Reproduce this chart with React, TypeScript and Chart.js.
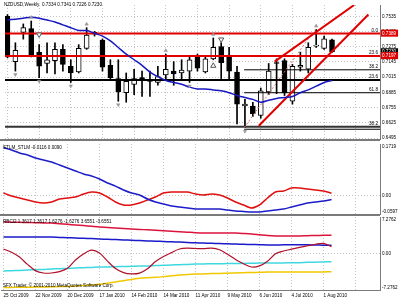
import React, { useEffect, useRef } from 'react';
import { Chart, registerables } from 'chart.js';

Chart.register(...registerables);

// ---------------- data ----------------
const DATE_LABELS = ['25 Oct 2009', '22 Nov 2009', '20 Dec 2009', '17 Jan 2010', '14 Feb 2010', '14 Mar 2010', '11 Apr 2010', '9 May 2010', '6 Jun 2010', '4 Jul 2010', '1 Aug 2010'];
const DATE_BARS = [0, 4, 8, 12, 16, 20, 24, 28, 32, 36, 40];
const GRID_BARS = [0, 4, 8, 12, 16, 20, 24, 28, 32, 36, 40, 44];

const OPEN = [0.7535, 0.7148, 0.7398, 0.7430, 0.7229, 0.7132, 0.7156, 0.7253, 0.7108, 0.7059, 0.7261, 0.7398, 0.7333, 0.7116, 0.7003, 0.6882, 0.6954, 0.7011, 0.6995, 0.6971, 0.7035, 0.7067, 0.7051, 0.7067, 0.7188, 0.7059, 0.7172, 0.7277, 0.7204, 0.7059, 0.6769, 0.6769, 0.6688, 0.6890, 0.7140, 0.7156, 0.6809, 0.7100, 0.7083, 0.7280, 0.7261, 0.7334];
const HIGH = [0.7550, 0.7309, 0.7470, 0.7495, 0.7293, 0.7309, 0.7309, 0.7293, 0.7164, 0.7293, 0.7438, 0.7406, 0.7341, 0.7164, 0.7164, 0.7051, 0.7083, 0.7067, 0.7067, 0.7108, 0.7212, 0.7148, 0.7164, 0.7188, 0.7212, 0.7188, 0.7350, 0.7309, 0.7269, 0.7108, 0.6825, 0.6801, 0.6922, 0.7132, 0.7172, 0.7172, 0.7124, 0.7229, 0.7309, 0.7422, 0.7366, 0.7341];
const LOW = [0.7180, 0.7067, 0.7340, 0.7188, 0.7011, 0.7051, 0.7043, 0.7067, 0.6970, 0.7051, 0.7253, 0.7366, 0.7067, 0.6987, 0.6809, 0.6801, 0.6866, 0.6850, 0.6850, 0.6946, 0.6995, 0.6946, 0.6987, 0.6970, 0.7067, 0.7051, 0.7164, 0.7003, 0.7003, 0.6616, 0.6583, 0.6680, 0.6664, 0.6866, 0.6874, 0.6858, 0.6785, 0.7067, 0.7051, 0.7269, 0.7253, 0.7226];
const CLOSE = [0.7188, 0.7245, 0.7438, 0.7204, 0.7108, 0.7164, 0.7253, 0.7124, 0.7051, 0.7261, 0.7374, 0.7382, 0.7100, 0.7011, 0.6890, 0.6979, 0.7003, 0.6987, 0.6979, 0.7019, 0.7083, 0.7043, 0.7075, 0.7164, 0.7091, 0.7172, 0.7269, 0.7140, 0.7067, 0.6785, 0.6785, 0.6704, 0.6898, 0.7067, 0.7132, 0.6882, 0.7108, 0.7116, 0.7269, 0.7290, 0.7342, 0.7230];
const MA = [0.7503, 0.7511, 0.7519, 0.7527, 0.7519, 0.7503, 0.7487, 0.7462, 0.7438, 0.7414, 0.7414, 0.7390, 0.7366, 0.7325, 0.7269, 0.7212, 0.7164, 0.7116, 0.7059, 0.7019, 0.6987, 0.6970, 0.6954, 0.6930, 0.6914, 0.6914, 0.6906, 0.6898, 0.6882, 0.6858, 0.6841, 0.6825, 0.6801, 0.6817, 0.6833, 0.6841, 0.6850, 0.6882, 0.6906, 0.6938, 0.6970, 0.6987];

const PRICE_MIN = 0.64866;
const PRICE_MAX = 0.76318;
const PRICE_TICKS = [0.6495, 0.6625, 0.6755, 0.6885, 0.7015, 0.7145, 0.7275, 0.7405, 0.7535];
const PRICE_MARKS = [0.7230, 0.7197, 0.7389];

const FIB_PRICES = [0.7389, 0.7197, 0.7078, 0.6990, 0.6882, 0.6591, 0.6570];
const FIB_LABELS = ['0.0', '23.6', '38.2', '23.6', '61.8', '38.2', ''];
const FIB_FROM_BAR = [null, null, 29.9, null, 29.9, null, 29.9];

const CHANNEL_LOWER_BARS = [31.75, 45.6];
const CHANNEL_LOWER_PRICES = [0.6600, 0.7551];
const CHANNEL_UPPER_BARS = [33.75, 43.8];
const CHANNEL_UPPER_PRICES = [0.7148, 0.7632];
const FIB_TREND_BARS = [29.9, 38.85];
const FIB_TREND_PRICES = [0.6583, 0.7422];

const UP_FRACTAL_BARS = [3, 10, 20, 26, 39];
const DOWN_FRACTAL_BARS = [1, 4, 8, 14, 23, 30];
const SIGNAL_DOWN_BARS = [4, 27];
const SIGNAL_DOWN_PRICES = [0.7380, 0.7337];
const SIGNAL_UP_BARS = [26];
const SIGNAL_UP_PRICES = [0.7112];

const STLM_MIN = -0.0597;
const STLM_MAX = 0.1719;
const STLM_SLOW = [0.1603, 0.1520, 0.1421, 0.1355, 0.1256, 0.1190, 0.1123, 0.1024, 0.0925, 0.0826, 0.0726, 0.0660, 0.0561, 0.0429, 0.0327, 0.0197, 0.0098, 0.0032, -0.0101, -0.0200, -0.0266, -0.0332, -0.0365, -0.0398, -0.0432, -0.0432, -0.0432, -0.0432, -0.0465, -0.0498, -0.0514, -0.0531, -0.0531, -0.0498, -0.0465, -0.0432, -0.0365, -0.0299, -0.0233, -0.0200, -0.0167, -0.0116];
const STLM_FAST = [0.0098, -0.0001, -0.0068, -0.0134, -0.0200, -0.0233, -0.0200, -0.0101, -0.0068, -0.0035, 0.0065, 0.0131, 0.0098, -0.0035, -0.0200, -0.0299, -0.0299, -0.0233, -0.0134, -0.0035, 0.0098, 0.0131, 0.0131, 0.0131, 0.0065, 0.0032, 0.0065, 0.0032, -0.0068, -0.0200, -0.0299, -0.0398, -0.0299, -0.0068, 0.0131, 0.0164, 0.0263, 0.0263, 0.0230, 0.0197, 0.0164, 0.0090];

const RBCI_MIN = -7.2762;
const RBCI_MAX = 7.2762;
const RBCI = [0.90, 0.26, -0.70, -2.17, -3.41, -3.89, -3.89, -3.61, -2.95, -1.30, -0.10, 0.66, 0.10, -1.52, -2.99, -3.81, -4.07, -3.91, -3.05, -1.61, -0.60, 0.18, 0.90, 1.06, 1.00, 0.96, 1.06, 0.74, -0.14, -1.18, -2.05, -2.69, -2.47, -1.54, -0.06, 0.50, 0.86, 1.22, 1.54, 1.85, 2.01, 1.3617];
const RBCI_UP2 = [6.28, 6.24, 6.22, 6.18, 6.14, 6.10, 6.06, 5.94, 5.82, 5.68, 5.56, 5.42, 5.28, 5.20, 5.10, 5.00, 4.90, 4.80, 4.72, 4.63, 4.53, 4.45, 4.35, 4.25, 4.15, 4.09, 4.09, 4.09, 4.09, 4.07, 3.99, 3.89, 3.73, 3.57, 3.49, 3.49, 3.49, 3.49, 3.55, 3.59, 3.62, 3.6551];
const RBCI_UP1 = [3.29, 3.29, 3.29, 3.29, 3.29, 3.29, 3.29, 3.21, 3.15, 3.09, 3.03, 2.97, 2.89, 2.83, 2.77, 2.71, 2.65, 2.57, 2.51, 2.45, 2.39, 2.33, 2.27, 2.19, 2.13, 2.07, 2.03, 1.97, 1.93, 1.89, 1.83, 1.79, 1.75, 1.69, 1.69, 1.72, 1.74, 1.74, 1.72, 1.69, 1.66, 1.6276];
const RBCI_DN1 = [-3.49, -3.43, -3.37, -3.29, -3.23, -3.17, -3.09, -3.03, -2.97, -2.89, -2.83, -2.77, -2.69, -2.67, -2.63, -2.59, -2.55, -2.51, -2.49, -2.41, -2.35, -2.29, -2.23, -2.17, -2.11, -2.07, -2.05, -2.03, -2.01, -1.99, -1.97, -1.93, -1.91, -1.89, -1.87, -1.87, -1.85, -1.83, -1.76, -1.72, -1.68, -1.6276];
const RBCI_DN2 = [-6.78, -6.76, -6.74, -6.72, -6.70, -6.68, -6.64, -6.60, -6.56, -6.50, -6.40, -6.28, -6.14, -5.92, -5.68, -5.42, -5.18, -4.94, -4.82, -4.74, -4.61, -4.45, -4.31, -4.19, -4.11, -4.07, -4.01, -3.97, -3.93, -3.89, -3.83, -3.79, -3.75, -3.69, -3.69, -3.69, -3.69, -3.69, -3.69, -3.68, -3.67, -3.6551];

const TITLE_MAIN = 'NZDUSD,Weekly  0.7334 0.7341 0.7226 0.7230';
const TITLE_STLM = 'STLM_STLM -0.0116 0.0090';
const TITLE_RBCI = 'RBCI2 1.3617 1.3617 1.6276 -1.6276 3.6551 -3.6551';
const COPYRIGHT = 'SFX Trader, © 2001-2010 MetaQuotes Software Corp.';

// ---------------- styling / layout ----------------
const FONT = '"Liberation Sans", Arial, sans-serif';
const FS = 4.6;
const GRID_COLOR = '#c4c4c4';
const AXIS_COLOR = '#7a7a7a';
const SEP_COLOR = '#7a7a7a';
const PX_PER_BAR = 8;
const X_MIN = -0.3125;
const X_MAX = X_MIN + 379 / PX_PER_BAR;
const BARS = OPEN.map((_, i) => i);
const NONE = 'rgba(0,0,0,0)';

function drawText(ctx: CanvasRenderingContext2D, s: string, x: number, y: number, color = '#000', align: CanvasTextAlign = 'left') {
  ctx.save();
  ctx.font = `${FS}px ${FONT}`;
  ctx.fillStyle = color;
  ctx.textAlign = align;
  ctx.textBaseline = 'middle';
  ctx.fillText(s, x, y);
  ctx.restore();
}

function baseOptions(padding: any) {
  return {
    responsive: false,
    maintainAspectRatio: false,
    animation: false,
    devicePixelRatio: 1,
    events: [],
    layout: { padding },
    plugins: { legend: { display: false }, tooltip: { enabled: false }, title: { display: false } },
  };
}

function xScale(showLabels: boolean) {
  return {
    type: 'linear',
    min: X_MIN,
    max: X_MAX,
    offset: false,
    afterBuildTicks: (s: any) => {
      s.ticks = GRID_BARS.map((v) => ({ value: v }));
    },
    afterFit: (s: any) => {
      s.height = showLabels ? 10 : 0;
      s.paddingLeft = 0;
      s.paddingRight = 0;
    },
    grid: { display: true, offset: false, color: GRID_COLOR, lineWidth: 1, drawTicks: false },
    border: { display: showLabels, color: AXIS_COLOR, width: 1, dash: [1, 2] },
    ticks: {
      display: showLabels,
      autoSkip: false,
      maxRotation: 0,
      minRotation: 0,
      align: 'start',
      padding: 3,
      color: '#000',
      font: { size: FS, family: FONT },
      callback: (v: number) => {
        const k = DATE_BARS.indexOf(v);
        return k >= 0 ? DATE_LABELS[k] : '';
      },
    },
  };
}

function rangeAxis(min: number, max: number, labelValues: number[], labels: string[], gridIndex: number) {
  return {
    type: 'linear',
    position: 'right',
    min,
    max,
    afterBuildTicks: (s: any) => {
      s.ticks = labelValues.map((v) => ({ value: v }));
    },
    afterFit: (s: any) => {
      s.width = 20;
      s.paddingTop = 0;
      s.paddingBottom = 0;
    },
    grid: { drawTicks: false, color: (c: any) => (c.index === gridIndex ? GRID_COLOR : NONE) },
    border: { display: true, color: AXIS_COLOR, width: 1, dash: [1, 2] },
    ticks: {
      autoSkip: false,
      padding: 2,
      color: '#000',
      font: { size: FS, family: FONT },
      callback: (_v: number, i: number) => labels[i],
    },
  };
}

function buildMain() {
  const markBg = ['#000000', '#e00000', '#e00000'];
  const fibColor = ['#e00000', '#e00000', '#000', '#000', '#000', '#333', '#000'];
  const fibWidth = [2, 2, 1, 2, 1, 2, 1];
  const gap = 0.0030;
  const datasets: any[] = [
    {
      type: 'bar',
      data: BARS.map((i) => ({ x: i, y: [LOW[i], HIGH[i]] })),
      backgroundColor: '#000',
      borderWidth: 0,
      barThickness: 1,
      grouped: false,
      order: 30,
    },
    {
      type: 'bar',
      data: BARS.map((i) => ({ x: i, y: [Math.min(OPEN[i], CLOSE[i]), Math.max(OPEN[i], CLOSE[i])] })),
      backgroundColor: BARS.map((i) => (CLOSE[i] >= OPEN[i] ? '#ffffff' : '#000000')),
      borderColor: '#000',
      borderWidth: 1,
      borderSkipped: false,
      barThickness: 5,
      grouped: false,
      order: 29,
    },
  ];
  FIB_PRICES.forEach((p, k) => {
    datasets.push({
      type: 'line',
      data: [
        { x: FIB_FROM_BAR[k] ?? X_MIN, y: p },
        { x: X_MAX, y: p },
      ],
      borderColor: fibColor[k],
      borderWidth: fibWidth[k],
      pointRadius: 0,
      order: 20,
    });
  });
  datasets.push({
    type: 'line',
    data: FIB_TREND_BARS.map((b, k) => ({ x: b, y: FIB_TREND_PRICES[k] })),
    borderColor: '#e07070',
    borderWidth: 1,
    borderDash: [2, 2],
    pointRadius: 0,
    order: 15,
  });
  datasets.push({
    type: 'line',
    data: CHANNEL_LOWER_BARS.map((b, k) => ({ x: b, y: CHANNEL_LOWER_PRICES[k] })),
    borderColor: '#e00000',
    borderWidth: 2,
    pointRadius: 0,
    order: 14,
  });
  datasets.push({
    type: 'line',
    data: CHANNEL_UPPER_BARS.map((b, k) => ({ x: b, y: CHANNEL_UPPER_PRICES[k] })),
    borderColor: '#e00000',
    borderWidth: 2,
    pointRadius: 0,
    order: 14,
  });
  datasets.push({
    type: 'line',
    data: BARS.map((i) => ({ x: i, y: MA[i] })),
    borderColor: '#1818c0',
    borderWidth: 1.5,
    pointRadius: 0,
    tension: 0.3,
    order: 10,
  });
  datasets.push({
    type: 'line',
    showLine: false,
    data: UP_FRACTAL_BARS.map((i) => ({ x: i, y: HIGH[i] + gap })),
    pointStyle: 'triangle',
    pointRadius: 2,
    pointBackgroundColor: '#999',
    pointBorderColor: '#999',
    pointBorderWidth: 0.5,
    order: 5,
  });
  datasets.push({
    type: 'line',
    showLine: false,
    data: DOWN_FRACTAL_BARS.map((i) => ({ x: i, y: LOW[i] - gap })),
    pointStyle: 'triangle',
    pointRotation: 180,
    pointRadius: 2,
    pointBackgroundColor: '#999',
    pointBorderColor: '#999',
    pointBorderWidth: 0.5,
    order: 5,
  });
  datasets.push({
    type: 'line',
    showLine: false,
    data: SIGNAL_DOWN_BARS.map((b, k) => ({ x: b, y: SIGNAL_DOWN_PRICES[k] })),
    pointStyle: 'triangle',
    pointRotation: 180,
    pointRadius: 3,
    pointBackgroundColor: '#fff',
    pointBorderColor: '#555',
    pointBorderWidth: 1,
    order: 4,
  });
  datasets.push({
    type: 'line',
    showLine: false,
    data: SIGNAL_UP_BARS.map((b, k) => ({ x: b, y: SIGNAL_UP_PRICES[k] })),
    pointStyle: 'triangle',
    pointRadius: 3,
    pointBackgroundColor: '#fff',
    pointBorderColor: '#555',
    pointBorderWidth: 1,
    order: 4,
  });

  const nReg = PRICE_TICKS.length;
  return {
    type: 'line',
    data: { datasets },
    options: {
      ...baseOptions({ left: 1, right: 0, top: 0, bottom: 2 }),
      scales: {
        x: xScale(false),
        y: {
          type: 'linear',
          position: 'right',
          min: PRICE_MIN,
          max: PRICE_MAX,
          afterBuildTicks: (s: any) => {
            s.ticks = [...PRICE_TICKS, ...PRICE_MARKS].map((v) => ({ value: v }));
          },
          afterFit: (s: any) => {
            s.width = 20;
            s.paddingTop = 0;
            s.paddingBottom = 0;
          },
          grid: { drawTicks: false, color: (c: any) => (c.index < nReg ? GRID_COLOR : NONE) },
          border: { display: true, color: AXIS_COLOR, width: 1, dash: [1, 2] },
          ticks: {
            autoSkip: false,
            padding: 2,
            font: { size: FS, family: FONT },
            color: (c: any) => (c.index < nReg ? '#000' : '#fff'),
            showLabelBackdrop: (c: any) => c.index >= nReg,
            backdropColor: (c: any) => (c.index >= nReg ? markBg[c.index - nReg] : NONE),
            backdropPadding: { left: 1, right: 2, top: 1, bottom: 0.5 },
            callback: (v: number) => Number(v).toFixed(4),
          },
        },
      },
    },
    plugins: [
      {
        id: 'mainDecor',
        afterDraw(chart: any) {
          const { ctx, chartArea, scales } = chart;
          ctx.save();
          ctx.fillStyle = SEP_COLOR;
          ctx.fillRect(0, chartArea.bottom, chartArea.right, 2);
          ctx.restore();
          drawText(ctx, TITLE_MAIN, 4, 5);
          FIB_PRICES.forEach((p, k) => {
            if (FIB_LABELS[k]) drawText(ctx, FIB_LABELS[k], chartArea.right - 2, scales.y.getPixelForValue(p) - 3, '#000', 'right');
          });
        },
      },
    ],
  };
}

function buildStlm() {
  const span = STLM_MAX - STLM_MIN;
  const topLabel = STLM_MAX - (2.7 / 70) * span;
  const botLabel = STLM_MIN + (2.3 / 70) * span;
  return {
    type: 'line',
    data: {
      datasets: [
        { data: BARS.map((i) => ({ x: i, y: STLM_SLOW[i] })), borderColor: '#1c1cc8', borderWidth: 1.5, pointRadius: 0, tension: 0.25 },
        { data: BARS.map((i) => ({ x: i, y: STLM_FAST[i] })), borderColor: '#e01010', borderWidth: 1.5, pointRadius: 0, tension: 0.25 },
      ],
    },
    options: {
      ...baseOptions({ left: 1, right: 0, top: 0, bottom: 2 }),
      scales: {
        x: xScale(false),
        y: rangeAxis(STLM_MIN, STLM_MAX, [botLabel, 0, topLabel], [STLM_MIN.toFixed(4), '0.00', STLM_MAX.toFixed(4)], 1),
      },
    },
    plugins: [
      {
        id: 'stlmDecor',
        afterDraw(chart: any) {
          const { ctx, chartArea } = chart;
          ctx.save();
          ctx.fillStyle = SEP_COLOR;
          ctx.fillRect(0, chartArea.bottom, chartArea.right, 2);
          ctx.restore();
          drawText(ctx, TITLE_STLM, 3, 4);
        },
      },
    ],
  };
}

function buildRbci() {
  const span = RBCI_MAX - RBCI_MIN;
  const topLabel = RBCI_MAX - (3 / 73) * span;
  const botLabel = RBCI_MIN + (2 / 73) * span;
  const line = (arr: number[], color: string, width: number) => ({
    data: BARS.map((i) => ({ x: i, y: arr[i] })),
    borderColor: color,
    borderWidth: width,
    pointRadius: 0,
    tension: 0.3,
  });
  return {
    type: 'line',
    data: {
      datasets: [
        line(RBCI, '#b0102a', 1.2),
        line(RBCI_UP2, '#dc143c', 1.5),
        line(RBCI_UP1, '#1a1ac8', 1.5),
        line(RBCI_DN1, '#40d8e0', 1.5),
        line(RBCI_DN2, '#f0c800', 1.5),
      ],
    },
    options: {
      ...baseOptions({ left: 1, right: 0, top: 1, bottom: 0 }),
      scales: {
        x: xScale(true),
        y: rangeAxis(RBCI_MIN, RBCI_MAX, [botLabel, 0, topLabel], [RBCI_MIN.toFixed(4), '0.00', RBCI_MAX.toFixed(4)], 1),
      },
    },
    plugins: [
      {
        id: 'rbciDecor',
        afterDraw(chart: any) {
          const { ctx } = chart;
          drawText(ctx, TITLE_RBCI, 3, 6);
          drawText(ctx, COPYRIGHT, 3, 69.5);
        },
      },
    ],
  };
}

function Panel(props: { top: number; height: number; build: () => any }) {
  const ref = useRef<HTMLCanvasElement | null>(null);
  useEffect(() => {
    if (!ref.current) return;
    const chart = new Chart(ref.current, props.build());
    return () => chart.destroy();
  }, []);
  return (
    <canvas
      ref={ref}
      width={400}
      height={props.height}
      style={{ position: 'absolute', left: 0, top: props.top, width: 400, height: props.height, display: 'block' }}
    />
  );
}

export default function App() {
  return (
    <div style={{ position: 'absolute', left: 0, top: 0, width: 400, height: 300, background: '#ffffff', overflow: 'hidden' }}>
      <Panel top={0} height={144} build={buildMain} />
      <Panel top={144} height={72} build={buildStlm} />
      <Panel top={216} height={84} build={buildRbci} />
    </div>
  );
}
